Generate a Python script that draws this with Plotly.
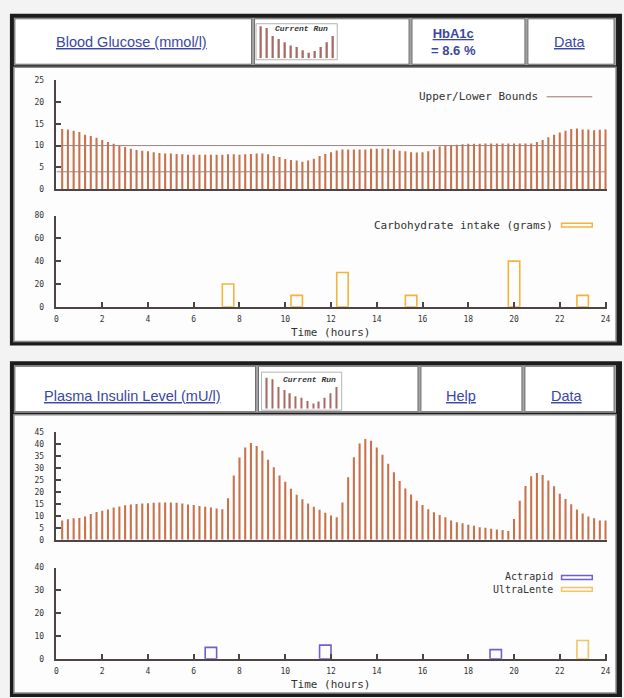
import plotly.graph_objects as go

W, H = 624, 698

# ---------------- data ----------------
hours = [0.25 * i for i in range(1, 97)]          # 15-minute samples
glucose = [13.8, 13.7, 13.4, 13.1, 12.5, 12.2, 11.8, 11.3, 10.8, 10.4,
           9.9, 9.7, 9.3, 9.0, 8.8, 8.7, 8.5, 8.3, 8.2, 8.2,
           8.1, 8.0, 7.9, 7.9, 7.9, 7.9, 7.9, 7.9, 7.9, 8.0,
           8.0, 7.9, 8.0, 8.1, 8.2, 8.2, 8.0, 7.6, 7.4, 6.9,
           6.7, 6.6, 6.3, 6.6, 7.0, 7.6, 8.1, 8.5, 8.9, 9.1,
           9.1, 9.1, 9.1, 9.1, 9.3, 9.3, 9.3, 9.3, 9.1, 8.8,
           8.7, 8.5, 8.4, 8.5, 8.7, 9.1, 9.8, 10.0, 10.0, 10.2,
           10.3, 10.4, 10.4, 10.4, 10.5, 10.5, 10.5, 10.5, 10.5, 10.5,
           10.5, 10.5, 10.5, 10.8, 11.3, 11.9, 12.5, 13.0, 13.4, 13.8,
           13.9, 13.7, 13.7, 13.5, 13.6, 13.7]
upper_bound = 10
lower_bound = 4

carb_hours = [7.5, 10.5, 12.5, 15.5, 20.0, 23.0]
carb_grams = [20, 10, 30, 10, 40, 10]

insulin = [8.0, 8.6, 9.0, 9.1, 9.7, 10.8, 11.6, 12.1, 12.7, 13.5,
           13.9, 14.4, 14.8, 15.0, 15.2, 15.3, 15.5, 15.6, 15.6, 15.6,
           15.5, 15.2, 14.8, 14.5, 14.1, 13.8, 13.5, 13.1, 12.8, 17.4,
           26.9, 34.5, 38.7, 40.6, 39.3, 37.3, 33.5, 30.4, 26.9, 24.3,
           21.4, 18.8, 17.0, 15.2, 13.8, 12.6, 11.3, 10.1, 9.4, 15.6,
           26.2, 34.6, 40.3, 42.2, 41.5, 38.7, 35.6, 31.8, 28.3, 24.6,
           21.5, 19.0, 16.3, 14.6, 12.8, 11.5, 10.4, 9.4, 8.0, 7.3,
           6.9, 6.3, 5.9, 5.2, 5.0, 4.6, 4.3, 4.1, 3.6, 8.7,
           16.3, 22.5, 26.6, 28.0, 27.1, 24.8, 22.4, 19.3, 17.1, 14.9,
           12.7, 11.0, 9.7, 9.0, 8.0, 8.0]

actrapid_hours = [6.75, 11.75, 19.2]
actrapid_units = [5, 6, 4]
ultralente_hours = [23.0]
ultralente_units = [8]

thumb_values = [100, 95, 70, 60, 50, 40, 35, 25, 17, 23, 35, 50, 70]

x_ticks = list(range(0, 25, 2))
x_tick_labels = [str(v) for v in x_ticks]

# ---------------- styles ----------------
BAR = "#c8714b"
AX = "#4d4545"
MONO = "DejaVu Sans Mono"
LINK = "#3c47a0"
CARB = "#f2b43a"
ACT = "#7062c4"
ULT = "#f3c462"
BOUND = "#9a8580"

X0, PXH = 55.0, 23.1       # px of hour 0, px per hour
XMAX = 24.06


def fx(px):
    return px / W


def fy(py):
    return 1 - py / H


def xdom():
    return [fx(X0), fx(X0 + XMAX * PXH)]


def ydom(bottom_px, top_px):
    return [fy(bottom_px), fy(top_px)]


fig = go.Figure()

# glucose bars
fig.add_trace(go.Bar(x=hours, y=glucose, width=0.09, marker_color=BAR,
                     marker_line_width=0, name="Blood Glucose",
                     xaxis="x", yaxis="y", showlegend=False))
for b in (upper_bound, lower_bound):
    fig.add_trace(go.Scatter(x=[0, 24], y=[b, b], mode="lines",
                             line=dict(color=BOUND, width=1),
                             name="Upper/Lower Bounds", xaxis="x", yaxis="y",
                             showlegend=False, hoverinfo="skip"))

# carbohydrate intake
fig.add_trace(go.Bar(x=carb_hours, y=carb_grams, width=0.5,
                     marker=dict(color="rgba(0,0,0,0)",
                                 line=dict(color=CARB, width=1.6)),
                     name="Carbohydrate intake (grams)",
                     xaxis="x2", yaxis="y2", showlegend=False))

# insulin bars
fig.add_trace(go.Bar(x=hours, y=insulin, width=0.09, marker_color=BAR,
                     marker_line_width=0, name="Plasma Insulin",
                     xaxis="x3", yaxis="y3", showlegend=False))

# injections
fig.add_trace(go.Bar(x=actrapid_hours, y=actrapid_units, width=0.5,
                     marker=dict(color="rgba(0,0,0,0)",
                                 line=dict(color=ACT, width=1.6)),
                     name="Actrapid", xaxis="x4", yaxis="y4", showlegend=False))
fig.add_trace(go.Bar(x=ultralente_hours, y=ultralente_units, width=0.5,
                     marker=dict(color="rgba(0,0,0,0)",
                                 line=dict(color=ULT, width=1.6)),
                     name="UltraLente", xaxis="x4", yaxis="y4", showlegend=False))

# thumbnails
thumb_x = list(range(len(thumb_values)))
for xa, ya in (("x5", "y5"), ("x6", "y6")):
    fig.add_trace(go.Bar(x=thumb_x, y=thumb_values, width=0.22,
                         marker_color="#a86a66", marker_line_width=0,
                         name="Current Run", xaxis=xa, yaxis=ya,
                         showlegend=False, hoverinfo="skip"))

tickfont = dict(family=MONO, size=8, color="#333")


def xaxis_cfg(anchor, labels):
    d = dict(domain=xdom(), range=[0, XMAX], anchor=anchor, showline=True,
             linecolor=AX, linewidth=1.5, showgrid=False, zeroline=False,
             fixedrange=True)
    if labels:
        d.update(ticks="inside", tickvals=x_ticks, ticktext=x_tick_labels,
                 ticklen=5, tickwidth=1.5, tickcolor=AX, showticklabels=True,
                 tickfont=tickfont, ticklabelstandoff=4)
    else:
        d.update(ticks="", showticklabels=False)
    return d


def yaxis_cfg(anchor, top, step, dom):
    return dict(domain=dom, range=[0, top], anchor=anchor, showline=True,
                linecolor=AX, linewidth=1.5, ticks="inside",
                tickvals=list(range(0, top + 1, step)), ticklen=5,
                tickwidth=1.5, tickcolor=AX, tickfont=tickfont,
                showgrid=False, zeroline=False, fixedrange=True,
                ticklabelstandoff=9)


def thumb_axes(xpx, ypx):
    xa = dict(domain=[fx(xpx[0]), fx(xpx[1])], range=[-0.6, 12.6],
              visible=False, fixedrange=True)
    ya = dict(domain=[fy(ypx[1]), fy(ypx[0])], range=[0, 105],
              visible=False, fixedrange=True)
    return xa, ya


x5, y5 = thumb_axes((258, 338), (21, 55))
x6, y6 = thumb_axes((264, 341), (377, 410))
x5["anchor"], y5["anchor"] = "y5", "x5"
x6["anchor"], y6["anchor"] = "y6", "x6"

# ---------------- frames ----------------
shapes = []


def rect(x0, y0, x1, y1, fill, line="rgba(0,0,0,0)", lw=0):
    shapes.append(dict(type="rect", xref="paper", yref="paper",
                       x0=fx(x0), x1=fx(x1), y0=fy(y1), y1=fy(y0),
                       fillcolor=fill, line=dict(color=line, width=lw),
                       layer="below"))


for (ytop, ybot, hb, cells) in (
        (10, 346, (14, 62), [(13, 252), (255, 411), (414, 528), (531, 618)]),
        (362, 702, (366, 414), [(13, 256), (259, 420), (423, 525), (528, 618)])):
    rect(8, ytop, 626, ybot, "#1c1c1c")
    rect(12, hb[0], 620, hb[1], "#a4a4a4")
    for c0, c1 in cells:
        rect(c0, hb[0] + 1, c1, hb[1] - 1, "#ffffff", "#6e6e6e", 1)
    rect(12, hb[1] + 2, 620, ybot - 4, "#fdfdfd", "#8a8a8a", 1.5)

# thumbnail frames
rect(256.5, 20, 338.5, 56.5, "#ffffff", "#b4b4b4", 1)
rect(262, 373, 343, 411.5, "#ffffff", "#b4b4b4", 1)

# legend samples
shapes.append(dict(type="line", xref="paper", yref="paper",
                   x0=fx(550), x1=fx(596), y0=fy(94), y1=fy(94),
                   line=dict(color="#a0706a", width=1)))
for (yc, col) in ((224, CARB), (581, ACT), (593, ULT)):
    shapes.append(dict(type="rect", xref="paper", yref="paper",
                       x0=fx(565), x1=fx(596), y0=fy(yc + 2), y1=fy(yc - 2),
                       fillcolor="rgba(0,0,0,0)", line=dict(color=col, width=1.5)))

# ---------------- annotations ----------------
ann = []


def text(x, y, s, size, family, color, xanchor="center", align="center"):
    ann.append(dict(x=fx(x), y=fy(y), xref="paper", yref="paper", text=s,
                    showarrow=False, xanchor=xanchor, yanchor="middle",
                    align=align,
                    font=dict(size=size, family=family, color=color)))


SANS = "Liberation Sans"
text(131, 38, "<u>Blood Glucose (mmol/l)</u>", 14.5, SANS, LINK)
text(456, 38, "<b><u>HbA1c</u><br>= 8.6 %</b>", 13, SANS, LINK)
text(574, 38, "<u>Data</u>", 14.5, SANS, LINK)
text(131, 397, "<u>Plasma Insulin Level (mU/l)</u>", 14.5, SANS, LINK)
text(463, 397, "<u>Help</u>", 14.5, SANS, LINK)
text(570, 397, "<u>Data</u>", 14.5, SANS, LINK)

text(302, 25, "<b><i>Current Run</i></b>", 8, "Liberation Mono", "#333")
text(310, 380, "<b><i>Current Run</i></b>", 8, "Liberation Mono", "#333")

text(543, 94, "Upper/Lower Bounds", 11, MONO, "#333", "right")
text(558, 224, "Carbohydrate intake (grams)", 11, MONO, "#333", "right")
text(558, 587, "Actrapid<br>UltraLente", 10, MONO, "#333", "right", "right")
text(332, 333, "Time (hours)", 11, MONO, "#333")
text(332, 689, "Time (hours)", 11, MONO, "#333")

fig.update_layout(
    width=W, height=H, margin=dict(l=0, r=0, t=0, b=0),
    paper_bgcolor="#f3f3f3", plot_bgcolor="rgba(0,0,0,0)",
    barmode="overlay", showlegend=False,
    xaxis=xaxis_cfg("y", False),
    yaxis=yaxis_cfg("x", 25, 5, ydom(187.7, 77)),
    xaxis2=xaxis_cfg("y2", True),
    yaxis2=yaxis_cfg("x2", 80, 20, ydom(306.7, 214.3)),
    xaxis3=xaxis_cfg("y3", False),
    yaxis3=yaxis_cfg("x3", 45, 5, ydom(542.7, 434)),
    xaxis4=xaxis_cfg("y4", True),
    yaxis4=yaxis_cfg("x4", 40, 10, ydom(663.3, 571)),
    xaxis5=x5, yaxis5=y5, xaxis6=x6, yaxis6=y6,
    shapes=shapes, annotations=ann,
)

fig.write_html(
    "out.html",
    config={"displayModeBar": False},
    post_script="document.body.style.margin='0';"
                "document.body.style.overflow='hidden';",
)
